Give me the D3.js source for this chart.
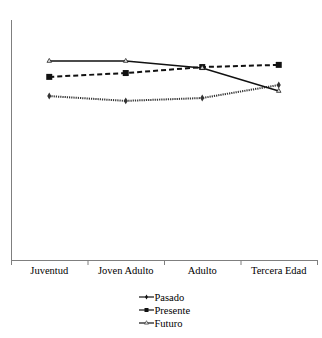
<!DOCTYPE html>
<html><head><meta charset="utf-8">
<script src="https://cdn.jsdelivr.net/npm/d3@7"></script>
<style>body{margin:0;background:#fff}svg{display:block}text{font-family:"Liberation Serif","DejaVu Serif",serif}</style>
</head><body>
<script>
const categories = ["Juventud", "Joven Adulto", "Adulto", "Tercera Edad"];
const seriesNames = ["Pasado", "Presente", "Futuro"];
const pasado = [6.83, 6.63, 6.75, 7.29];
const presente = [7.63, 7.79, 8.04, 8.13];
const futuro = [8.29, 8.29, 8.0, 7.04];
const yDomain = [0, 10];

const W = 322, H = 338;
const svg = d3.select("body").append("svg").attr("width", W).attr("height", H);
const x = d3.scaleBand().domain(categories).range([11, 317]);
const y = d3.scaleLinear().domain(yDomain).range([260, 20]);
const font = "Liberation Serif";

svg.append("line").attr("x1", 11.5).attr("x2", 11.5).attr("y1", y(yDomain[1])).attr("y2", y(0))
  .attr("stroke", "#7f7f7f").attr("stroke-width", 1);
const xAxis = svg.append("g").attr("transform", `translate(0,${y(0)})`)
  .call(d3.axisBottom(x).tickSize(0).tickPadding(7));
xAxis.attr("font-family", null);
xAxis.select(".domain").attr("stroke", "#7f7f7f");
xAxis.selectAll("text").style("font-family", font).attr("font-size", 10.5).attr("fill", "#000");
const bounds = [...categories.map(c => x(c)), x.range()[1]];
xAxis.selectAll(".sep").data(bounds).enter().append("line").attr("class","sep")
  .attr("x1", d => d + 0.5).attr("x2", d => d + 0.5).attr("y1", 0).attr("y2", 5)
  .attr("stroke", "#7f7f7f");

const styles = {
  Pasado: {data: pasado, dash: "1.2,1", width: 2, color: "#333", marker: "diamond", size: 14},
  Presente: {data: presente, dash: "5,3", width: 2, color: "#111", marker: "square", size: 36},
  Futuro: {data: futuro, dash: null, width: 1.5, color: "#111", marker: "triangle", size: 9}
};
const symMap = {diamond: d3.symbolDiamond, square: d3.symbolSquare, triangle: d3.symbolTriangle};
const cx = c => x(c) + x.bandwidth() / 2;

seriesNames.forEach(name => {
  const s = styles[name];
  const pts = categories.map((c, i) => [cx(c), y(s.data[i])]);
  svg.append("path").attr("d", d3.line()(pts)).attr("fill", "none")
    .attr("stroke", s.color).attr("stroke-width", s.width)
    .attr("stroke-dasharray", s.dash);
  svg.selectAll(null).data(pts).enter().append("path")
    .attr("transform", d => `translate(${d[0]},${d[1]})`)
    .attr("d", d3.symbol().type(symMap[s.marker]).size(s.size))
    .attr("fill", s.marker === "triangle" ? "#ddd" : s.color)
    .attr("stroke", s.color).attr("stroke-width", s.marker === "triangle" ? 0.7 : 0);
});

const lg = svg.append("g").attr("transform", "translate(139,297)");
seriesNames.forEach((name, i) => {
  const s = styles[name];
  const g = lg.append("g").attr("transform", `translate(0,${i * 13})`);
  g.append("line").attr("x1", 0).attr("x2", 15).attr("y1", 0).attr("y2", 0)
    .attr("stroke", "#111").attr("stroke-width", 1.2);
  g.append("path").attr("transform", "translate(7.5,0)")
    .attr("d", d3.symbol().type(symMap[s.marker]).size(s.marker === "square" ? 16 : 7))
    .attr("fill", s.marker === "triangle" ? "#ddd" : "#111").attr("stroke", "#111")
    .attr("stroke-width", s.marker === "triangle" ? 0.5 : 0);
  g.append("text").attr("x", 15.5).attr("y", 3.5).text(name)
    .style("font-family", font).attr("font-size", 10.5).attr("fill", "#000");
});
</script>
</body></html>
